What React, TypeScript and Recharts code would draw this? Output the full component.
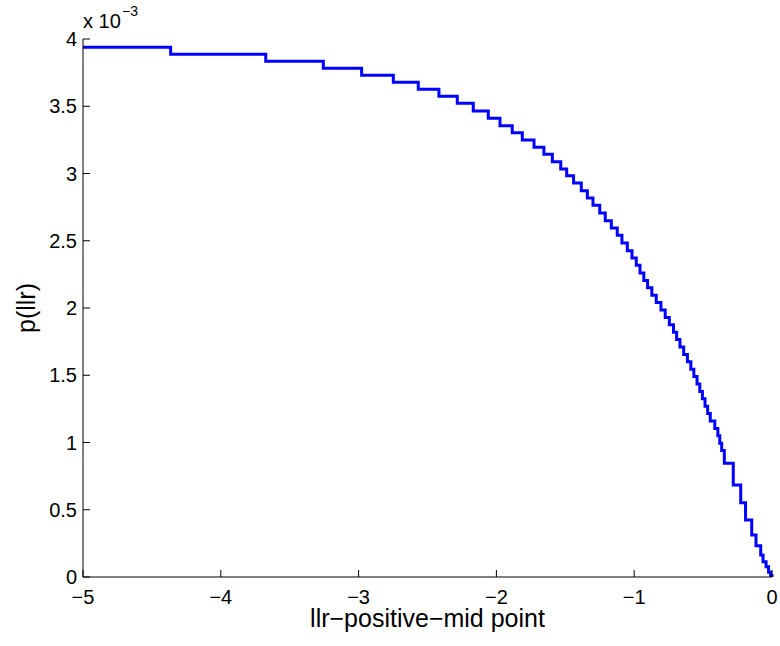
import { LineChart, Line, XAxis, YAxis } from "recharts";

// start of each flat step along the llr axis, and the p(llr) level (x 1e-3) held from there
const stepX = [
  -5, -4.364, -3.674, -3.256, -2.978, -2.748, -2.567, -2.417, -2.284, -2.168,
  -2.059, -1.974, -1.885, -1.812, -1.727, -1.655, -1.594, -1.533, -1.49, -1.44,
  -1.384, -1.34, -1.299, -1.25, -1.21, -1.166, -1.123, -1.089, -1.05, -1.016,
  -0.985, -0.958, -0.93, -0.903, -0.872, -0.84, -0.806, -0.775, -0.745, -0.715,
  -0.692, -0.668, -0.641, -0.614, -0.589, -0.567, -0.544, -0.524, -0.505, -0.486,
  -0.467, -0.448, -0.415, -0.393, -0.379, -0.365, -0.346, -0.281, -0.227, -0.192,
  -0.147, -0.116, -0.082, -0.065, -0.043, -0.025, -0.01, 0,
];
const levels = [
  3.938, 3.886, 3.834, 3.782, 3.73, 3.678, 3.626, 3.574, 3.522, 3.465,
  3.41, 3.355, 3.303, 3.249, 3.195, 3.143, 3.088, 3.033, 2.983, 2.929,
  2.872, 2.818, 2.764, 2.706, 2.649, 2.595, 2.541, 2.483, 2.426, 2.372,
  2.318, 2.26, 2.205, 2.15, 2.095, 2.04, 1.985, 1.93, 1.875, 1.82,
  1.765, 1.71, 1.655, 1.6, 1.545, 1.49, 1.435, 1.38, 1.325, 1.27,
  1.215, 1.16, 1.105, 1.05, 0.995, 0.94, 0.845, 0.684, 0.552, 0.424,
  0.312, 0.233, 0.164, 0.114, 0.077, 0.035, 0.012, 0,
];

const xTicks = [-5, -4, -3, -2, -1, 0];
const yTicks = [0, 0.5, 1, 1.5, 2, 2.5, 3, 3.5, 4];

const FONT = '"Liberation Sans", Arial, Helvetica, sans-serif';
const TICK = 7;

const fmt = (v: number) => (v < 0 ? `\u2212${Math.abs(v)}` : String(v));

function BottomTick({ x, y, payload }: any) {
  return (
    <g>
      <line x1={x} y1={y} x2={x} y2={y - TICK} stroke="#000" />
      <text x={x} y={y + 27} textAnchor="middle" fontSize={20} fontFamily={FONT} fill="#000">
        {fmt(payload.value)}
      </text>
    </g>
  );
}

function LeftTick({ x, y, payload }: any) {
  return (
    <g>
      <line x1={x} y1={y} x2={x + TICK} y2={y} stroke="#000" />
      <text x={x - 6} y={y + 7} textAnchor="end" fontSize={20} fontFamily={FONT} fill="#000">
        {fmt(payload.value)}
      </text>
    </g>
  );
}

function TopTick({ x, y }: any) {
  return <line x1={x} y1={y} x2={x} y2={y + TICK} stroke="#000" />;
}

function RightTick({ x, y }: any) {
  return <line x1={x} y1={y} x2={x - TICK} y2={y} stroke="#000" />;
}

export default function App() {
  const data = stepX.map((x, i) => ({ x, p: levels[i] }));

  return (
    <div style={{ position: "absolute", left: 0, top: 0, width: 780, height: 646, background: "#fff" }}>
      <LineChart
        width={780}
        height={646}
        data={data}
        margin={{ top: 39, right: 8, bottom: 0, left: 0 }}
      >
        <XAxis
          dataKey="x"
          type="number"
          domain={[-5, 0]}
          ticks={xTicks}
          interval={0}
          height={69}
          tickSize={0}
          tickMargin={0}
          tickLine={false}
          tick={<BottomTick />}
          axisLine={{ stroke: "#000" }}
          label={{
            value: "llr\u2212positive\u2212mid point",
            position: "insideBottom",
            offset: 19,
            fontSize: 25,
            fontFamily: FONT,
            fill: "#000",
          }}
        />
        <XAxis
          xAxisId="top"
          orientation="top"
          dataKey="x"
          type="number"
          domain={[-5, 0]}
          ticks={xTicks}
          interval={0}
          height={0}
          tickSize={0}
          tickMargin={0}
          tickLine={false}
          tick={<TopTick />}
          axisLine={{ stroke: "#000" }}
        />
        <YAxis
          type="number"
          domain={[0, 4]}
          ticks={yTicks}
          interval={0}
          width={83}
          tickSize={0}
          tickMargin={0}
          tickLine={false}
          tick={<LeftTick />}
          axisLine={{ stroke: "#000" }}
          label={{
            value: "p(llr)",
            angle: -90,
            position: "insideLeft",
            offset: 26,
            fontSize: 25,
            fontFamily: FONT,
            fill: "#000",
            style: { textAnchor: "middle" },
          }}
        />
        <YAxis
          yAxisId="right"
          orientation="right"
          type="number"
          domain={[0, 4]}
          ticks={yTicks}
          interval={0}
          width={0}
          tickSize={0}
          tickMargin={0}
          tickLine={false}
          tick={<RightTick />}
          axisLine={{ stroke: "#000" }}
        />
        <Line
          dataKey="p"
          type="stepAfter"
          stroke="#0000ff"
          strokeWidth={3}
          dot={false}
          isAnimationActive={false}
        />
      </LineChart>
      <svg
        width={780}
        height={646}
        style={{ position: "absolute", left: 0, top: 0, pointerEvents: "none" }}
      >
        <text x={83} y={28} fontSize={20} fontFamily={FONT} fill="#000">
          x 10
        </text>
        <text x={122} y={16} fontSize={14} fontFamily={FONT} fill="#000">
          {"\u22123"}
        </text>
      </svg>
    </div>
  );
}
